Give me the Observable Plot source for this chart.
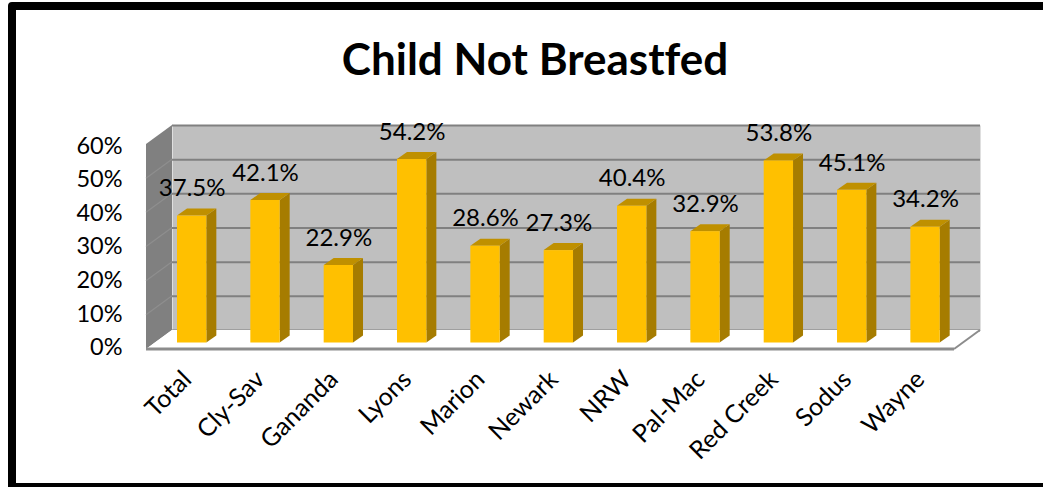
<!DOCTYPE html>
<html><head><meta charset="utf-8">
<script src="https://cdn.jsdelivr.net/npm/d3@7"></script>
<script src="https://cdn.jsdelivr.net/npm/@observablehq/plot@0.6"></script>
<style>
html,body{margin:0;padding:0;background:#fff;overflow:hidden;width:1043px;height:487px}
#border{position:absolute;left:8px;top:2px;width:1100px;height:473px;border:8px solid #000;border-radius:4px}
h1{position:absolute;left:0;top:30px;width:1070px;margin:0;text-align:center;font:700 44px Lato,sans-serif;font-variant-ligatures:none;color:#000;line-height:56px}
#chart{position:absolute;left:0;top:100px}
#chart svg{overflow:visible;font-family:Lato,sans-serif;font-variant-ligatures:none}
</style></head><body>
<div id="border"></div>
<h1>Child Not Breastfed</h1>
<div id="chart"></div>
<script>
const categories = ["Total","Cly-Sav","Gananda","Lyons","Marion","Newark","NRW","Pal-Mac","Red Creek","Sodus","Wayne"];
const percents = [37.5,42.1,22.9,54.2,28.6,27.3,40.4,32.9,53.8,45.1,34.2];
const gridTicks = [0,10,20,30,40,50,60];
const rows = categories.map((name,i)=>({name,value:percents[i]}));

const barDepth = [10,-7], wallDepth = [-26,19];
const wallStretch = 1.0094, labelStretch = 0.99;

// Turn each bar rectangle into one visible face of a 3D column
const face = corners => (index,scales,values,dims,ctx,next)=>{
  const g = next(index,scales,values,dims,ctx);
  g.querySelectorAll("rect").forEach(r=>{
    const x=+r.getAttribute("x"),y=+r.getAttribute("y"),w=+r.getAttribute("width"),h=+r.getAttribute("height");
    const p=document.createElementNS("http://www.w3.org/2000/svg","polygon");
    p.setAttribute("points",corners(x,y,w,h).map(c=>c.join(",")).join(" "));
    r.replaceWith(p);
  });
  return g;
};
const [bx,by]=barDepth;
const sideFace = face((x,y,w,h)=>[[x+w,y],[x+w+bx,y+by],[x+w+bx,y+h+by],[x+w,y+h]]);
const topFace = face((x,y,w,h)=>[[x,y],[x+bx,y+by],[x+w+bx,y+by],[x+w,y]]);

// Left wall and floor hanging from the frame edges
const shell = (index,{y},values,{width,height,marginLeft:l,marginRight:r,marginBottom:b,marginTop:t})=>{
  const [wx,wy]=wallDepth, R=width-r, B=height-b;
  const svg=d3.create("svg:g");
  const wall=[[l,t],[l,B],[l+wx,B+wy],[l+wx,t+wy]];
  svg.append("polygon").attr("points",wall.join(" ")).attr("fill","#808080");
  for(const v of gridTicks.slice(1,-1)){
    const yy=y(v*wallStretch)-12.5;
    svg.append("line").attr("x1",l).attr("y1",yy).attr("x2",l+wx).attr("y2",yy+wy).attr("stroke","#8e8e8e").attr("stroke-width",1.2);
  }
  const floor=[[l,B],[R,B],[R+wx,B+wy],[l+wx,B+wy]];
  svg.append("polygon").attr("points",floor.join(" ")).attr("fill","#fff");
  svg.append("line").attr("x1",R).attr("y1",B).attr("x2",R+wx).attr("y2",B+wy).attr("stroke","#8c8c8c").attr("stroke-width",2);
  svg.append("line").attr("x1",l+wx).attr("y1",B+wy).attr("x2",R+wx).attr("y2",B+wy).attr("stroke","#8c8c8c").attr("stroke-width",3);
  return svg.node();
};

const chart = Plot.plot({
  width:1043,height:387,
  marginLeft:172,marginRight:63,marginTop:25,marginBottom:157,
  x:{type:"band",domain:categories,range:[155,961.7],paddingInner:0.6,paddingOuter:0.3,round:false},
  y:{domain:[0,60],range:[242.5,39.4]},
  marks:[
    Plot.frame({fill:"#bfbfbf",stroke:null}),
    Plot.ruleY(gridTicks,{y:d=>d*wallStretch,dy:-12.5,stroke:"#808080",strokeWidth:2}),
    shell,
    Plot.barY(rows,{x:"name",y:"value",fill:"#a67c00",render:sideFace}),
    Plot.barY(rows,{x:"name",y:"value",fill:"#bf9000",render:topFace}),
    Plot.barY(rows,{x:"name",y:"value",fill:"#ffc000"}),
    Plot.text(rows,{x:"name",y:"value",text:d=>d.value.toFixed(1)+"%",dy:-27.5,dx:0,fontSize:24,fill:"#000",textAnchor:"middle"}),
    Plot.axisY(gridTicks,{y:d=>d*labelStretch,anchor:"left",tickSize:0,tickFormat:d=>d+"%",label:null,fontSize:23.5,dx:-41,dy:4.5,fill:"#000"}),
    Plot.axisX({anchor:"bottom",tickSize:0,tickRotate:-45,label:null,fontSize:25,dy:33,dx:-5,fill:"#000"})
  ]
});
document.getElementById("chart").appendChild(chart);
</script></body></html>
